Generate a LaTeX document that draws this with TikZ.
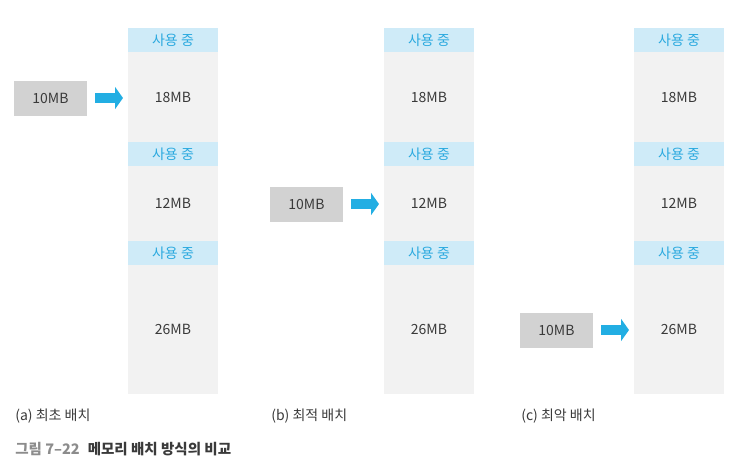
\documentclass[tikz,border=0pt]{standalone}
\usepackage{fontspec}
\setmainfont{Noto Sans CJK KR}
\usepackage{xcolor}
\usetikzlibrary{arrows.meta}
\usetikzlibrary{positioning}

\definecolor{usedfill}{HTML}{CFEBF8}
\definecolor{usedtext}{HTML}{2AA9DF}
\definecolor{freefill}{HTML}{F2F2F2}
\definecolor{procfill}{HTML}{D2D2D2}
\definecolor{arrowblue}{HTML}{22AEE3}
\definecolor{txt}{HTML}{3A3A3A}
\definecolor{figgray}{HTML}{8C8C8C}

\begin{document}
\begin{tikzpicture}[x=1pt,y=1pt,node distance=0pt,
                    every node/.style={outer sep=0pt,text=txt,font=\fontsize{14}{16}\selectfont}]
  \tikzstyle{used}=[fill=usedfill, text=usedtext, minimum width=90pt, minimum height=24pt, inner sep=0pt]
  \tikzstyle{hole}=[fill=freefill, minimum width=90pt, inner sep=0pt]
  \tikzstyle{proc}=[fill=procfill, minimum width=73pt, minimum height=35pt, inner sep=0pt]
  \tikzstyle{bigarrow}=[-{Triangle[length=8pt,width=22pt]}, line width=10pt, arrowblue,
                        shorten <=8pt, shorten >=5pt]
  \useasboundingbox (0,0) rectangle (730,-466);
  % memory columns
  \foreach \c/\x in {a/128,b/384,c/634} {
    \node[used, anchor=north west] (\c1) at (\x,-28) {사용 중};
    \node[hole, minimum height=90pt, below=of \c1] (\c2) {18MB};
    \node[used, below=of \c2] (\c3) {사용 중};
    \node[hole, minimum height=75pt, below=of \c3] (\c4) {12MB};
    \node[used, below=of \c4] (\c5) {사용 중};
    \node[hole, minimum height=129pt, below=of \c5] (\c6) {26MB};
  }
  % 10MB process
  \node[proc] (pa) at (50.5,-98) {10MB};
  \node[proc] (pb) at (306.5,-204) {10MB};
  \node[proc] (pc) at (556.5,-330) {10MB};
  \draw[bigarrow] (pa) -- (pa -| a2.west);
  \draw[bigarrow] (pb) -- (pb -| b4.west);
  \draw[bigarrow] (pc) -- (pc -| c6.west);
  % captions
  \node[anchor=west] (capa) at (12,-416) {(a) 최초 배치};
  \node[anchor=west] (capb) at (268,-416) {(b) 최적 배치};
  \node[anchor=west] (capc) at (518,-416) {(c) 최악 배치};
  \node[anchor=west, font=\fontsize{14.5}{16}\selectfont] (fig) at (12,-449)
    {\textcolor{figgray}{\textbf{그림 7–22}}\hspace{8pt}\textbf{메모리 배치 방식의 비교}};
\end{tikzpicture}
\end{document}
